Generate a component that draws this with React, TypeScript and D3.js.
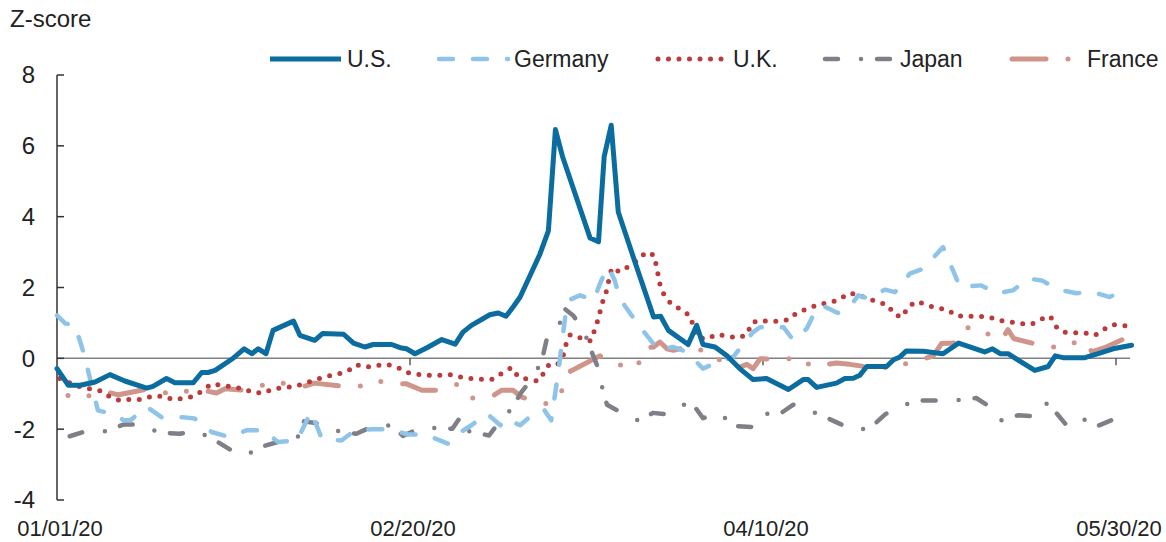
//@ts-nocheck
import * as d3 from "d3";
import React, { useEffect, useRef } from "react";

// x = days since 01/01/20, y = z-score
const usData = [
  [0, -0.29], [1.6, -0.76], [3.3, -0.76], [5.4, -0.67], [7.5, -0.46], [9.6, -0.64],
  [12.7, -0.84], [13.6, -0.79], [15.5, -0.57], [16.7, -0.69], [19.3, -0.69], [20.5, -0.4],
  [21.4, -0.4], [22.4, -0.34], [25, 0.01], [26.5, 0.27], [27.6, 0.13], [28.5, 0.27],
  [29.6, 0.13], [30.6, 0.79], [33.5, 1.05], [34.4, 0.65], [36.5, 0.51], [37.6, 0.7],
  [40.6, 0.68], [42, 0.43], [43.6, 0.32], [44.8, 0.39], [47.4, 0.39], [48.6, 0.3],
  [49.5, 0.27], [50.7, 0.13], [52.4, 0.3], [54.5, 0.53], [56.4, 0.4], [57.5, 0.74],
  [58.7, 0.93], [61.3, 1.23], [62.5, 1.28], [63.6, 1.19], [64.6, 1.45], [65.6, 1.73],
  [68.4, 2.94], [69.6, 3.6], [70.6, 6.46], [71.6, 5.7], [75.5, 3.4], [76.7, 3.29],
  [77.5, 5.69], [78.5, 6.58], [79.5, 4.13], [82.1, 2.58], [84.5, 1.17], [85.5, 1.19],
  [86.6, 0.79], [89.4, 0.39], [90.6, 0.93], [91.5, 0.39], [93.2, 0.32], [94.9, 0.07],
  [96.7, -0.29], [98.6, -0.6], [100.5, -0.57], [103.6, -0.88], [105.7, -0.6], [106.4, -0.6],
  [107.6, -0.82], [110.4, -0.7], [111.6, -0.57], [112.8, -0.56], [113.7, -0.48], [114.7, -0.23],
  [117.5, -0.23], [118.5, -0.04], [119.4, 0.04], [120.3, 0.21], [122.7, 0.2], [125.5, 0.13],
  [127.7, 0.43], [131.4, 0.18], [132.5, 0.27], [133.6, 0.13], [134.7, 0.13], [138.5, -0.34],
  [140.4, -0.23], [141.4, 0.07], [142.5, 0.02], [145.6, 0.02], [147.7, 0.15], [149.6, 0.27],
  [152.2, 0.37],
];

const germanyData = [
  [0, 1.21], [1.2, 0.98], [2.5, 0.95], [3.3, 0.46], [3.8, 0.13], [5.8, -1.47], [8.5, -1.6],
  [9.4, -1.75], [10.4, -1.75], [12.7, -1.37], [14.8, -1.66], [17.7, -1.66], [19.5, -1.7],
  [21.9, -2.08], [24.3, -2.22], [26.9, -2.03], [29.2, -2.03], [31.3, -2.36], [34, -2.32],
  [36, -1.5], [37.5, -2.27], [40.3, -2.32], [42.2, -2.03], [44.6, -2.0], [47.2, -2.0],
  [49.7, -2.15], [52.1, -2.15], [55.4, -2.41], [56.8, -2.13], [58.7, -1.89], [60.9, -1.56],
  [62.8, -1.89], [63.5, -1.7], [65.6, -1.89], [67.5, -1.56], [69, -1.45], [70, -1.75],
  [71, -0.4], [72, 1.2], [72.5, 1.64], [74.1, 1.78], [76, 1.64], [77.1, 2.2], [78.1, 2.58],
  [79, 2.2], [79.7, 1.69], [81.4, 1.21], [82.6, 0.88], [84.5, 0.41], [85.2, 0.23], [87.3, 0.32],
  [89.2, 0.18], [91.5, -0.29], [93.6, -0.1], [95.8, 0.04], [97.2, 0.41], [98.6, 0.74],
  [99.6, 0.88], [102.9, 0.88], [104.3, 0.51], [106.2, 0.84], [107.1, 1.21], [108.3, 1.5],
  [110.6, 1.28], [112.8, 1.59], [113.5, 1.78], [114.9, 1.69], [117.3, 1.94], [118.7, 1.87],
  [120.8, 2.39], [122.7, 2.53], [125.5, 3.14], [126.9, 2.49], [127.9, 2.01], [130.9, 2.06],
  [133.1, 1.83], [135.4, 1.92], [137.6, 2.25], [139.5, 2.2], [141.8, 1.94], [144.4, 1.84],
  [146.8, 1.87], [149.1, 1.73], [151.3, 1.94],
];

const ukData = [
  [0.4, -0.57], [1.8, -0.69], [3.3, -0.81], [4.7, -0.86], [6.2, -0.92], [7.5, -1.09],
  [8.9, -1.19], [10.4, -1.16], [12, -1.16], [13.5, -1.07], [15, -1.07], [16.5, -1.17],
  [18, -1.12], [19.5, -1.07], [20.7, -0.9], [21.9, -0.72], [23.3, -0.76], [24.9, -0.81],
  [26.4, -0.86], [27.8, -0.97], [29.3, -0.98], [30.6, -0.86], [32.2, -0.83], [33.7, -0.79],
  [35.2, -0.7], [36.7, -0.6], [38.2, -0.51], [39.7, -0.45], [41.2, -0.36], [42.4, -0.18],
  [43.8, -0.25], [45.3, -0.2], [46.8, -0.17], [48.2, -0.25], [49.5, -0.4], [51, -0.45],
  [52.6, -0.48], [54.1, -0.48], [55.7, -0.46], [57.2, -0.53], [58.7, -0.57], [60.2, -0.59],
  [61.7, -0.59], [63.1, -0.41], [64.4, -0.26], [65.3, -0.51], [66.8, -0.6], [68.2, -0.64],
  [69, -0.4], [69.7, -0.17], [70.9, -0.17], [71.7, 0.08], [72.1, 0.39], [72.7, 0.67],
  [74.1, 0.58], [75.6, 0.49], [76.1, 0.77], [76.6, 1.07], [77, 1.38], [77.4, 1.67],
  [77.9, 1.94], [78.2, 2.25], [78.6, 2.56], [79.7, 2.44], [81.1, 2.61], [82.3, 2.77],
  [83.4, 3.0], [84.6, 2.91], [84.9, 2.6], [85.2, 2.3], [85.5, 1.99], [86.2, 1.71],
  [87.2, 1.5], [88.6, 1.36], [89.8, 1.17], [90.1, 0.88], [90.7, 0.6], [92, 0.54],
  [93.4, 0.68], [95, 0.62], [96.5, 0.58], [97.8, 0.68], [98.3, 0.98], [99.3, 1.07],
  [100.8, 1.05], [102.3, 1.05], [103.7, 1.1], [104.9, 1.31], [106.4, 1.4], [107.8, 1.52],
  [109.4, 1.57], [110.8, 1.66], [112.1, 1.84], [113.4, 1.8], [114.8, 1.69], [116.3, 1.59],
  [117.7, 1.5], [118.6, 1.23], [119.8, 1.17], [120.5, 1.45], [121.8, 1.61], [123.2, 1.5],
  [124.7, 1.42], [126.1, 1.38], [127.4, 1.2], [129, 1.19], [130.5, 1.19], [132, 1.17],
  [133.5, 1.07], [135, 1.03], [136.5, 0.98], [138, 0.96], [139.3, 1.1], [140.7, 1.19],
  [141.4, 0.91], [142.5, 0.74], [144, 0.72], [145.6, 0.72], [147, 0.65], [148.2, 0.81],
  [149.5, 0.95], [151, 0.93], [152.2, 0.88],
];

const japanData = [
  [1.8, -2.2], [4.2, -2.05], [6.9, -2.06], [9.4, -1.87], [12, -1.87], [14.5, -2.1],
  [17.4, -2.13], [19.7, -2.05], [22.2, -2.29], [24.7, -2.6], [26.8, -2.74], [28.6, -2.52],
  [31.3, -2.36], [33.9, -2.32], [35, -1.78], [37.3, -1.85], [39.7, -2.05], [42.4, -2.13],
  [44.8, -1.91], [47.4, -1.89], [49, -2.19], [51.4, -1.97], [53.8, -1.97], [56, -1.99],
  [57.3, -1.61], [58.4, -2.06], [61.2, -2.18], [62.6, -1.8], [64.3, -1.44], [65.8, -0.95],
  [67.5, -0.53], [68.7, -0.04], [69.4, 0.57], [71, 0.86], [71.9, 1.4], [73.1, 1.21],
  [74.5, 0.84], [75.5, 0.3], [76.6, -0.25], [77.1, -0.73], [77.9, -1.31], [80.2, -1.56],
  [82.5, -1.77], [84.4, -1.54], [86.4, -1.58], [88, -1.36], [89.9, -1.25], [91.5, -1.69],
  [93.7, -1.54], [96, -1.91], [98.6, -1.94], [100, -1.56], [102.3, -1.58], [104.3, -1.31],
  [105.9, -1.42], [108.6, -1.64], [110.9, -1.85], [112.8, -2.03], [115.2, -1.97],
  [117.3, -1.58], [119.4, -1.36], [121.9, -1.19], [124.8, -1.19], [127.2, -1.19],
  [130.2, -1.12], [132.2, -1.38], [133.7, -1.75], [136.1, -1.61], [138.8, -1.64],
  [140.3, -1.25], [141.7, -1.58], [143.2, -1.94], [145.4, -1.72], [147.4, -1.91],
  [149.7, -1.72], [151.5, -1.38],
];

const franceData = [
  [0, -1.05], [1.3, -1.05], [4.3, -1.07], [7, -0.95], [8.7, -1.03], [12.5, -0.88],
  [15.3, -0.97], [18.3, -0.93], [20.6, -0.9], [22.6, -0.98], [23.8, -0.86], [26.4, -0.9],
  [29.1, -0.76], [32.1, -0.7], [35, -0.79], [36.4, -0.7], [40.2, -0.78], [43.2, -0.78],
  [46, -0.65], [48.8, -0.72], [49.5, -0.72], [51.7, -0.9], [54, -0.9], [56.6, -0.74],
  [58.9, -1.12], [61.8, -1.05], [63, -0.9], [64.6, -0.9], [65.8, -1.09], [66.5, -1.14],
  [69.4, -1.28], [71.4, -0.97], [72.4, -0.4], [76.9, 0.07], [79.4, -0.18], [82.2, -0.23],
  [83.3, 0.3], [84.5, 0.32], [85.4, 0.46], [86.4, 0.27], [87.3, 0.23], [90.2, 0.35],
  [92.5, 0.08], [95.2, -0.17], [96.7, -0.25], [97.7, -0.17], [98.6, -0.29], [99.6, -0.01],
  [102.5, -0.03], [104.9, 0.01], [107.1, -0.23], [110.4, -0.13], [112.3, -0.17],
  [115.3, -0.26], [118.3, -0.26], [121.1, -0.1], [124.1, 0.06], [125.3, 0.42], [127, 0.43],
  [128.8, 0.88], [131.6, 0.72], [133.1, 0.53], [133.9, 0.56], [134.7, 0.81], [135.5, 0.56],
  [138.1, 0.43], [141.1, 0.32], [143.9, 0.43], [145.5, 0.49], [146.6, 0.18], [148.4, 0.3],
  [150.9, 0.53], [152.2, 0.55],
];

const seriesNames = ["U.S.", "Germany", "U.K.", "Japan", "France"];
const xTickLabels = ["2020-01-01", "2020-02-20", "2020-04-10", "2020-05-30"];
const yTickValues = [-4, -2, 0, 2, 4, 6, 8];

const styles = {
  "U.S.": { color: "#0B6C9F", width: 5, dash: null, offset: 0 },
  Germany: { color: "#8FC4EA", width: 4.5, dash: "14 20", offset: 0 },
  "U.K.": { color: "#BC3A3B", width: 5, dash: "0 10.5", offset: 0 },
  Japan: { color: "#7E7F87", width: 4.5, dash: "13 23 0 16", offset: 0 },
  France: { color: "#D0958A", width: 5, dash: "34 22 0 21 0 22", offset: 45 },
};

const chart = () => {
  const width = 1166;
  const height = 542;
  const t0 = Date.UTC(2020, 0, 1);
  const toDate = (d) => new Date(t0 + d * 864e5);

  const x = d3
    .scaleUtc()
    .domain([new Date(t0), new Date(xTickLabels[3])])
    .range([57, 1116]);
  const y = d3.scaleLinear().domain([-4, 8]).range([500, 75]);

  const svg = d3
    .create("svg")
    .attr("width", width)
    .attr("height", height)
    .attr("viewBox", [0, 0, width, height])
    .attr("style", "display:block; font-family: 'Liberation Sans', Arial, sans-serif;");

  svg.append("rect").attr("width", width).attr("height", height).attr("fill", "#fff");

  // y axis title
  svg
    .append("text")
    .attr("x", 10)
    .attr("y", 27)
    .attr("font-size", 24)
    .attr("fill", "#222")
    .text("Z-score");

  // zero line
  svg
    .append("line")
    .attr("x1", x(new Date(t0)))
    .attr("x2", x(toDate(152)))
    .attr("y1", y(0))
    .attr("y2", y(0))
    .attr("stroke", "#808080")
    .attr("stroke-width", 1.5);

  // x ticks hanging from the zero line
  svg
    .append("g")
    .selectAll("line")
    .data(xTickLabels.slice(1))
    .join("line")
    .attr("x1", (d) => x(new Date(d)))
    .attr("x2", (d) => x(new Date(d)))
    .attr("y1", y(0))
    .attr("y2", y(0) + 7)
    .attr("stroke", "#333")
    .attr("stroke-width", 1.2);

  // y axis
  const yAxis = svg.append("g").attr("transform", `translate(${x(new Date(t0))},0)`);
  yAxis
    .append("line")
    .attr("y1", y(8))
    .attr("y2", y(-4))
    .attr("stroke", "#333")
    .attr("stroke-width", 1.5);
  yAxis
    .selectAll(".tick")
    .data(yTickValues)
    .join("line")
    .attr("x1", 0)
    .attr("x2", 7)
    .attr("y1", (d) => y(d))
    .attr("y2", (d) => y(d))
    .attr("stroke", "#333")
    .attr("stroke-width", 1.5);
  yAxis
    .selectAll("text")
    .data(yTickValues)
    .join("text")
    .attr("x", -22)
    .attr("y", (d) => y(d))
    .attr("dy", "0.35em")
    .attr("text-anchor", "end")
    .attr("font-size", 24)
    .attr("fill", "#222")
    .text((d) => d);

  // x labels
  const fmt = d3.utcFormat("%m/%d/%y");
  svg
    .append("g")
    .selectAll("text")
    .data(xTickLabels)
    .join("text")
    .attr("x", (d) => x(new Date(d)) + 3)
    .attr("y", 536)
    .attr("text-anchor", "middle")
    .attr("font-size", 22)
    .attr("fill", "#222")
    .text((d) => fmt(new Date(d)));

  const line = d3
    .line()
    .x((d) => x(toDate(d[0])))
    .y((d) => y(d[1]));

  const allData = {
    "U.S.": usData,
    Germany: germanyData,
    "U.K.": ukData,
    Japan: japanData,
    France: franceData,
  };

  const drawOrder = ["France", "Japan", "U.K.", "Germany", "U.S."];
  svg
    .append("g")
    .attr("fill", "none")
    .selectAll("path")
    .data(drawOrder)
    .join("path")
    .attr("d", (k) => line(allData[k]))
    .attr("stroke", (k) => styles[k].color)
    .attr("stroke-width", (k) => styles[k].width)
    .attr("stroke-dasharray", (k) => styles[k].dash)
    .attr("stroke-dashoffset", (k) => styles[k].offset)
    .attr("stroke-linecap", "round")
    .attr("stroke-linejoin", "round");

  // legend
  const legendX = [270, 437, 656, 823, 1010];
  const legendY = 59;
  const legend = svg
    .append("g")
    .selectAll("g")
    .data(seriesNames)
    .join("g")
    .attr("transform", (d, i) => `translate(${legendX[i]},${legendY})`);
  legend
    .append("line")
    .attr("x1", (d) => (styles[d].dash ? 2 : 0))
    .attr("x2", 71)
    .attr("stroke", (d) => styles[d].color)
    .attr("stroke-width", (d) => styles[d].width)
    .attr("stroke-dasharray", (d) => styles[d].dash)
    .attr("stroke-linecap", (d) => (styles[d].dash ? "round" : "butt"));
  legend
    .append("text")
    .attr("x", 77)
    .attr("dy", "0.35em")
    .attr("font-size", 23)
    .attr("fill", "#222")
    .text((d) => d);

  return svg.node();
};

export default function App() {
  const holderRef = useRef<HTMLDivElement | null>(null);

  useEffect(() => {
    const holder = holderRef.current;
    if (!holder || holder.hasChildNodes()) return;
    holder.appendChild(chart());
  }, []);

  return <div ref={holderRef} style={{ position: "absolute", left: 0, top: 0 }}></div>;
}
